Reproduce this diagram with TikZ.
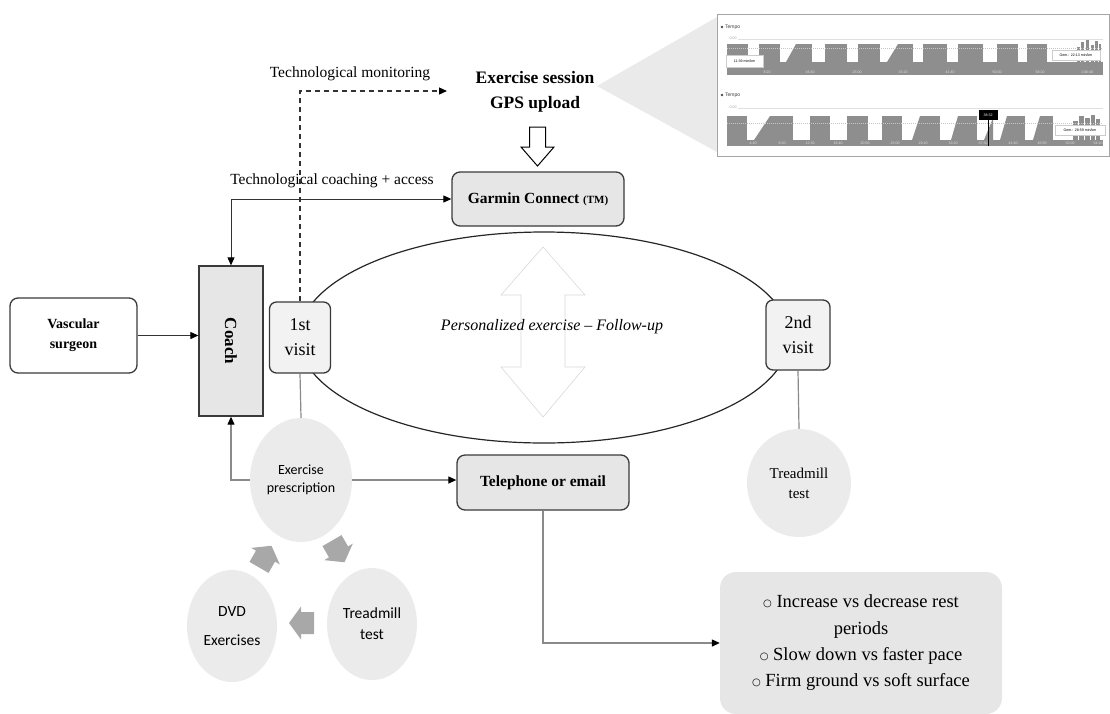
\documentclass[tikz,border=0pt]{standalone}
\usepackage{fontspec}
\setmainfont{Liberation Serif}
\newfontfamily\calibrifont{Carlito}
\newfontfamily\glyphfont{DejaVu Sans}
\newfontfamily\uifont{Liberation Sans}
\usetikzlibrary{arrows.meta,shapes.geometric}

\definecolor{boxline}{HTML}{3A3A3A}
\definecolor{boxfill}{HTML}{E6E6E6}
\definecolor{visitfill}{HTML}{F2F2F2}
\definecolor{bubblefill}{HTML}{EBEBEB}
\definecolor{linkgray}{HTML}{8A8A8A}
\definecolor{blockgray}{HTML}{A8A8A8}
\definecolor{chartgray}{HTML}{8E8E8E}
\definecolor{calloutfill}{HTML}{EAEAEA}
\definecolor{faintline}{HTML}{D8D8D8}

\newcommand\fsz[2]{\fontsize{#1}{#2}\selectfont}
\newcommand\ring{{\glyphfont\fsz{10}{10}\raisebox{1.5pt}{○}}}

\tikzset{
  plainbox/.style={draw=boxline, line width=1.3pt, rounded corners=8pt, fill=white, align=center, inner sep=0pt},
  greybox/.style={plainbox, fill=boxfill},
  visitbox/.style={plainbox, fill=visitfill, rounded corners=7pt, font=\fsz{18}{25}},
  bubblenode/.style={ellipse, fill=bubblefill, inner sep=0pt, align=center},
  darkline/.style={draw=black!80, line width=1pt},
  graylink/.style={draw=linkgray, line width=1.2pt},
  dashlink/.style={draw=black!80, line width=1.2pt, dash pattern=on 5pt off 4pt},
  blacktip/.style={-{Triangle[length=8pt,width=7pt,color=black]}},
  faintarrow/.style={draw=faintline, line width=0.6pt},
  blockarrow/.style={fill=blockgray},
  tinytext/.style={font=\uifont\fsz{3.6}{4}, inner sep=0.4pt},
  chartlabel/.style={font=\uifont\fsz{5}{6}, text=gray!50!black, anchor=west, inner sep=0pt},
}

\begin{document}
\begin{tikzpicture}[x=1pt,y=-1pt]
\useasboundingbox (0,0) rectangle (1110,713);

% ---------- session screenshot and its wedge
\fill[calloutfill] (597,86) -- (717,17) -- (717,152) -- cycle;
\draw[gray!70, line width=0.9pt, fill=white] (717,14) rectangle (1109.5,156);

% chart 1
\fill[gray!60!black] (722,27) circle (1.4);
\node[chartlabel] (tempoa) at (725,27) {Tempo};
\node[tinytext, text=gray!70] (zeroa) at (733,38) {0:00};
\draw[gray!25, line width=0.4pt] (738,39) -- (1103,39);
\fill[chartgray] (727,62) rectangle (1103,75);
\foreach \a/\b in {727/748,759/780,796/812,825/847,858/880,898/913,923/947,958/983,997/1018,1027/1047}
  \fill[chartgray] (\a,44) rectangle (\b,62);
\fill[chartgray] (786,62) -- (796,44) -- (796,62) -- cycle;
\fill[chartgray] (887,62) -- (898,44) -- (898,62) -- cycle;
\foreach \a/\b/\t in {1077/1080/47,1081/1084/42,1086/1089/40,1091/1094/45,1095/1098/41,1099/1101/44}
  \fill[chartgray] (\a,\t) rectangle (\b,62);
\draw[gray!45, line width=0.5pt, dash pattern=on 1pt off 1pt] (727,48) -- (1103,48);
\foreach \x/\t in {767/8:20,810/16:40,857/25:00,903/33:20,950/41:40,997/50:00,1040/58:20,1087/1:06:40}
  \node[tinytext, text=gray!25] (laba\x) at (\x,72) {\t};
\node[tinytext, fill=white, draw=gray!40, minimum width=37, minimum height=12] (pacea) at (744.5,61.5) {11:39 min/km};
\node[tinytext, fill=white, draw=gray!40, minimum width=48, minimum height=10] (avga) at (1076,55) {Gem.: 22:13 min/km};

% chart 2
\fill[gray!60!black] (722,95) circle (1.4);
\node[chartlabel] (tempob) at (725,95) {Tempo};
\node[tinytext, text=gray!70] (zerob) at (733,107) {0:00};
\draw[gray!25, line width=0.4pt] (738,108) -- (1103,108);
\fill[chartgray] (727,140) rectangle (1103,146);
\foreach \a/\b in {727/747,770/793,810/830,847/868,882/902,920/940,958/977,1007/1025,1040/1053}
  \fill[chartgray] (\a,116) rectangle (\b,140);
\fill[chartgray] (754,140) -- (770,116) -- (770,140) -- cycle;
\fill[chartgray] (912,140) -- (920,116) -- (920,140) -- cycle;
\fill[chartgray] (951,140) -- (958,116) -- (958,140) -- cycle;
\fill[chartgray] (984,140) -- (993,118) -- (993,140) -- cycle;
\fill[chartgray] (1000,140) -- (1007,116) -- (1007,140) -- cycle;
\fill[chartgray] (1033,140) -- (1040,116) -- (1040,140) -- cycle;
\foreach \a/\b/\t in {1073/1078/121,1079/1084/116,1085/1090/118,1091/1095/115,1096/1100/119}
  \fill[chartgray] (\a,\t) rectangle (\b,140);
\draw[gray!45, line width=0.5pt, dash pattern=on 1pt off 1pt] (727,123) -- (1103,123);
\foreach \x/\t in {753/4:10,782/8:20,810/12:30,838/16:40,865/20:50,895/25:00,923/29:10,953/33:20,983/37:30,1013/41:40,1042/45:50,1070/50:00,1098/54:10}
  \node[tinytext, text=gray!25] (labb\x) at (\x,143) {\t};
\draw[black, line width=0.5pt] (988,120) -- (988,146);
\node[tinytext, fill=black, text=white, minimum width=19, minimum height=10] (marker) at (988,115) {38:32};
\node[tinytext, fill=white, draw=gray!40, minimum width=50, minimum height=10] (avgb) at (1080,130) {Gem.: 28:59 min/km};

% ---------- upload and platform
\node[font=\bfseries\fsz{17.5}{25}, align=center, inner sep=0pt] (gps) at (535,92) {Exercise session\\GPS upload};
\coordinate (upl) at (537.5,127);
\draw[line width=1pt, fill=white, shift={(upl)}] (-8,0) -- (8,0) -- (8,20) -- (16.5,20) -- (0,39) -- (-16.5,20) -- (-8,20) -- cycle;
\node[greybox, minimum width=172, minimum height=54, font=\bfseries\fsz{15.5}{18}] (garmin) at (538,199) {Garmin Connect {\fsz{11}{13}(TM)}};

\node[font=\fsz{15.5}{18}, inner sep=0pt] (coachlbl) at (332,181) {Technological coaching + access};
\node[font=\fsz{15.5}{18}, inner sep=0pt] (monlbl) at (350,74) {Technological monitoring};

% ---------- follow-up loop
\node[ellipse, draw=black!85, line width=1.2pt, minimum width=490, minimum height=211, inner sep=0pt] (loop) at (544,337.5) {};
\coordinate (dbl) at (543,332);
\draw[faintarrow, shift={(dbl)}] (0,-85) -- (42,-37) -- (22,-37) -- (22,35) -- (42,35) -- (0,85) -- (-42,35) -- (-22,35) -- (-22,-37) -- (-42,-37) -- cycle;
\node[font=\itshape\fsz{16}{18}, inner sep=0pt] (follow) at (552,327) {Personalized exercise – Follow-up};

\node[visitbox, minimum width=61, minimum height=71] (visit1) at (300,337.5) {1st\\visit};
\node[visitbox, minimum width=64, minimum height=70] (visit2) at (798,335) {2nd\\visit};

% ---------- referral and coach
\node[plainbox, minimum width=127, minimum height=75, font=\bfseries\fsz{14}{20}] (surgeon) at (73.5,335.5) {Vascular\\surgeon};
\node[draw=boxline, fill=boxfill, line width=1.3pt, minimum width=64, minimum height=150] (coach) at (231,341) {};
\node[rotate=-90, font=\bfseries\fsz{17}{20}, inner sep=0pt] (coachtxt) at (coach.center) {Coach};

% ---------- prescription cycle
\node[bubblenode, minimum width=102, minimum height=124, font=\calibrifont\fsz{14}{18}] (presc) at (301,480) {Exercise\\prescription};
\node[bubblenode, minimum width=90, minimum height=112, font=\calibrifont\fsz{15.5}{29}] (dvd) at (232,626) {DVD\\Exercises};
\node[bubblenode, minimum width=90, minimum height=112, font=\calibrifont\fsz{15.5}{21}] (tread1) at (372,624) {Treadmill\\test};
\fill[blockarrow, shift={(265,557)}, rotate=60] (-12,-11) -- (1,-11) -- (1,-16.5) -- (13,0) -- (1,16.5) -- (1,11) -- (-12,11) -- cycle;
\fill[blockarrow, shift={(338,551)}, rotate=-60] (-12,-11) -- (1,-11) -- (1,-16.5) -- (13,0) -- (1,16.5) -- (1,11) -- (-12,11) -- cycle;
\fill[blockarrow, shift={(302,623)}, rotate=180] (-12,-11) -- (1,-11) -- (1,-16.5) -- (13,0) -- (1,16.5) -- (1,11) -- (-12,11) -- cycle;

\node[bubblenode, minimum width=104, minimum height=108, font=\fsz{15}{20}] (tread2) at (799,483) {Treadmill\\test};

% ---------- contact and adjustments
\node[greybox, minimum width=172, minimum height=55, font=\bfseries\fsz{15.5}{18}] (phone) at (543,482.5) {Telephone or email};
\node[fill=boxfill, rounded corners=16pt, minimum width=282, minimum height=142, align=center, inner sep=0pt, font=\fsz{18.5}{26.3}] (tips) at (861,643)
  {\ring\ Increase vs decrease rest\\periods\\\ring\ Slow down vs faster pace\\\ring\ Firm ground vs soft surface};

% ---------- connectors
\draw[darkline, blacktip] (surgeon.east) -- (surgeon.east -| coach.west);
\draw[darkline, {Triangle[length=8pt,width=7pt,color=black]}-{Triangle[length=8pt,width=7pt,color=black]}] (coach.north) |- (garmin.west);
\coordinate (monend) at (447,91);
\draw[dashlink, blacktip] (visit1.north) |- (monend);
\draw[graylink] (visit1.south) -- (presc.north);
\draw[graylink, blacktip] (presc.west) -| (coach.south);
\draw[graylink, blacktip] (presc.east) -- (presc.east -| phone.west);
\draw[graylink, blacktip] (phone.south) |- (tips.west);
\draw[graylink] (visit2.south) -- (tread2.north);
\end{tikzpicture}
\end{document}
